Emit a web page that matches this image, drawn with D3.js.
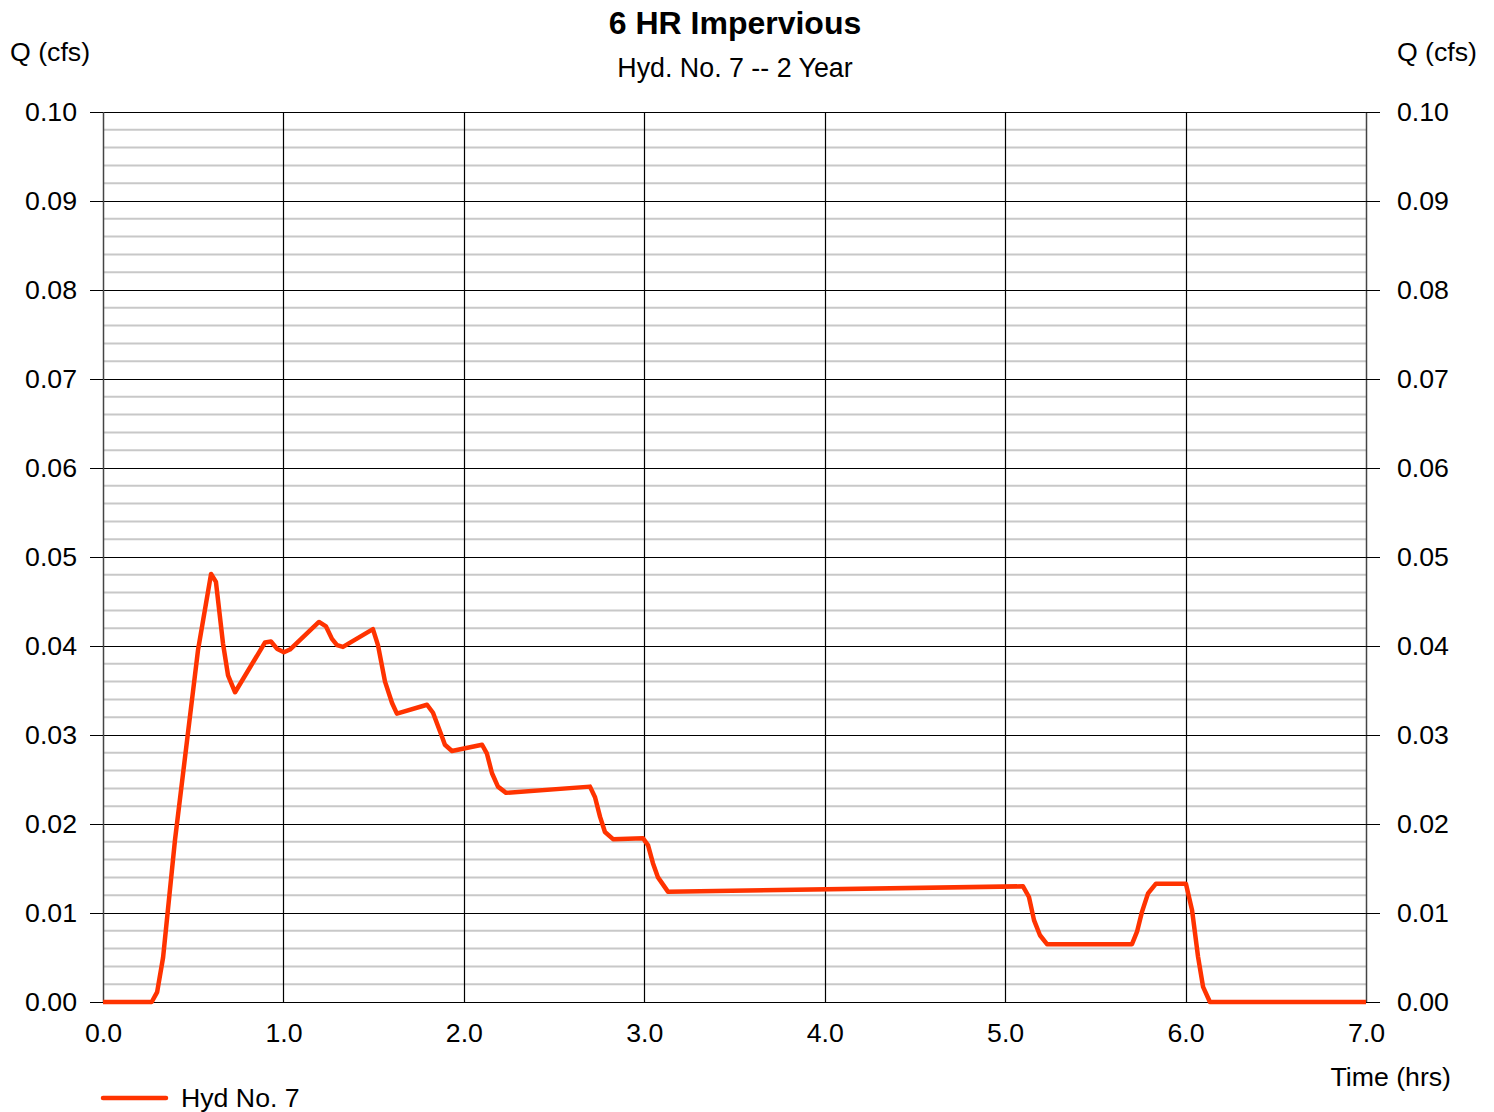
<!DOCTYPE html>
<html><head><meta charset="utf-8">
<script src="https://cdn.jsdelivr.net/npm/d3@7"></script>
<style>
html,body{margin:0;padding:0;background:#fff;}
svg text{font-family:"Liberation Sans",Arial,sans-serif;fill:#000;}
</style></head>
<body>
<svg id="chart" width="1494" height="1112"></svg>
<script>
const title = "6 HR Impervious";
const subtitle = "Hyd. No. 7 -- 2 Year";
const seriesName = "Hyd No. 7";
const xTicks = [0,1,2,3,4,5,6,7];
const yTicks = [0,0.01,0.02,0.03,0.04,0.05,0.06,0.07,0.08,0.09,0.10];
const timeHrs = [0,0.27,0.30,0.333,0.399,0.466,0.527,0.599,0.626,0.665,0.693,0.732,0.898,0.931,0.964,1.003,1.036,1.197,1.236,1.269,1.297,1.330,1.496,1.524,1.563,1.602,1.629,1.796,1.829,1.879,1.895,1.934,2.101,2.128,2.156,2.189,2.234,2.699,2.727,2.755,2.782,2.827,2.993,3.021,3.048,3.076,3.131,5.099,5.132,5.160,5.193,5.232,5.703,5.731,5.758,5.792,5.836,6.002,6.036,6.069,6.097,6.135,7.0];
const flowCfs = [0,0,0.0011,0.005,0.0182,0.0294,0.0396,0.0481,0.0472,0.0403,0.0367,0.0348,0.0404,0.0405,0.0397,0.0393,0.0396,0.0427,0.0422,0.0408,0.0401,0.0399,0.0419,0.0401,0.036,0.0336,0.0324,0.0334,0.0325,0.0298,0.0289,0.0282,0.0289,0.0279,0.0257,0.0242,0.0235,0.0242,0.023,0.0208,0.0191,0.0183,0.0184,0.0176,0.0156,0.014,0.0124,0.0130,0.0118,0.0092,0.0075,0.0065,0.0065,0.0079,0.0101,0.0122,0.0133,0.0133,0.0103,0.0051,0.0017,0,0];

const svg = d3.select("#chart");
const L = 103, R = 1366, T = 112, B = 1002;
const x = d3.scaleLinear().domain([0,7]).range([L,R]);
const y = d3.scaleLinear().domain([0,0.10]).range([B,T]);
const FS = "26.7px";

// minor gridlines
const minor = d3.range(0, 0.1001, 0.002).filter(v => Math.abs(v*100 - Math.round(v*100)) > 1e-6);
svg.append("g").selectAll("line").data(minor).join("line")
  .attr("x1", L).attr("x2", R).attr("y1", d=>y(d)).attr("y2", d=>y(d))
  .attr("stroke", "#c8c8c8").attr("stroke-width", 2);

// major horizontal
svg.append("g").selectAll("line").data(yTicks).join("line")
  .attr("x1", L).attr("x2", R).attr("y1", d=>Math.round(y(d))+0.5).attr("y2", d=>Math.round(y(d))+0.5)
  .attr("stroke", "#000").attr("stroke-width", 1.2);
// vertical
svg.append("g").selectAll("line").data(xTicks).join("line")
  .attr("x1", d=>Math.round(x(d))+0.5).attr("x2", d=>Math.round(x(d))+0.5).attr("y1", T).attr("y2", B)
  .attr("stroke", d => (d===0||d===7) ? "#444" : "#000").attr("stroke-width", d => (d===0||d===7)?1.5:1.2);

// axes
const yl = d3.axisLeft(y).tickValues(yTicks).tickFormat(d3.format(".2f")).tickSize(13).tickPadding(13);
const yr = d3.axisRight(y).tickValues(yTicks).tickFormat(d3.format(".2f")).tickSize(14).tickPadding(17);
const xb = d3.axisBottom(x).tickValues(xTicks).tickFormat(d3.format(".1f")).tickSize(0).tickPadding(21);
function style(g){ g.select(".domain").remove(); g.selectAll("text").style("font-size",FS).style("font-family","Liberation Sans, Arial, sans-serif"); g.selectAll(".tick line").attr("stroke","#000"); }
svg.append("g").attr("transform",`translate(${L},0)`).call(yl).call(style);
svg.append("g").attr("transform",`translate(${R},0)`).call(yr).call(style);
svg.append("g").attr("transform",`translate(0,${B})`).call(xb).call(style);

// line
svg.append("path").datum(timeHrs.map((t,i)=>[t,flowCfs[i]]))
  .attr("fill","none").attr("stroke","#ff3300").attr("stroke-width",4.5).attr("stroke-linejoin","round")
  .attr("d", d3.line().x(d=>x(d[0])).y(d=>y(d[1])));

// texts
svg.append("text").attr("x",735).attr("y",34).attr("text-anchor","middle").style("font-size","32px").style("font-weight","bold").text(title);
svg.append("text").attr("x",735).attr("y",77).attr("text-anchor","middle").style("font-size","26.8px").text(subtitle);
svg.append("text").attr("x",10).attr("y",61).style("font-size",FS).text("Q (cfs)");
svg.append("text").attr("x",1477).attr("y",61).attr("text-anchor","end").style("font-size",FS).text("Q (cfs)");
svg.append("text").attr("x",1451).attr("y",1086).attr("text-anchor","end").style("font-size",FS).text("Time (hrs)");

// legend
svg.append("line").attr("x1",103).attr("x2",166).attr("y1",1098).attr("y2",1098).attr("stroke","#ff3300").attr("stroke-width",4.5).attr("stroke-linecap","round");
svg.append("text").attr("x",181).attr("y",1107).style("font-size",FS).text(seriesName);
</script>
</body></html>
